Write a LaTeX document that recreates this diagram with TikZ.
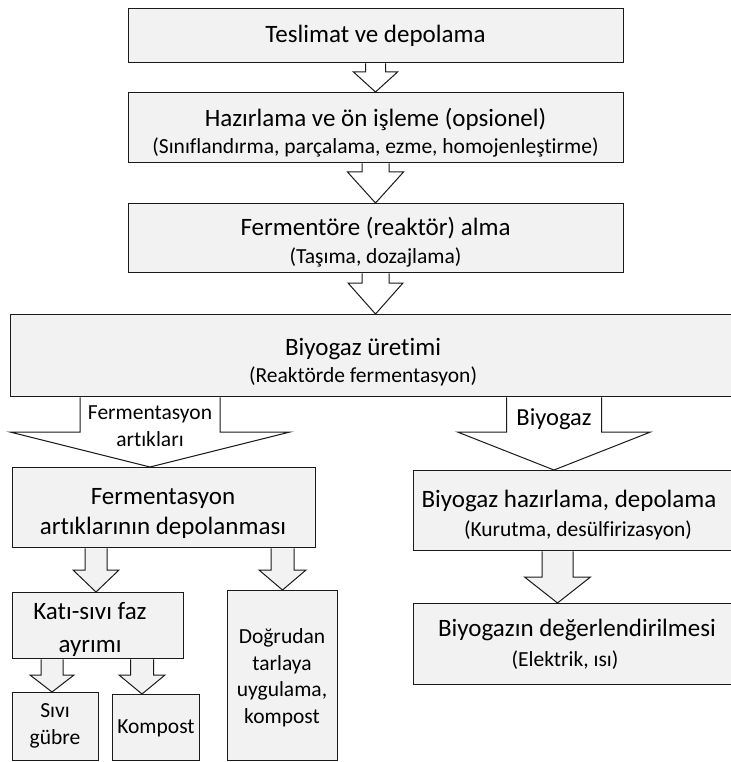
\documentclass[tikz,border=0pt]{standalone}
\usepackage{fontspec}
\setmainfont{Carlito}[Ligatures={NoCommon}]
\usetikzlibrary{calc}
\definecolor{boxgray}{HTML}{F2F2F2}
\definecolor{edgecol}{HTML}{1A1A1A}
\newcommand\bx[5]{\node[boxshape, minimum width={#4-#2}, minimum height={#5-#3}, anchor=north west] (#1) at (#2,#3) {};}
% \barrow[fill]{source}{target}{x centre}{shaft half}{head half}{shaft bottom y}
\newcommand\barrow[7][white]{%
  \path let \p1=(#2.south), \p2=(#3.north) in
    [blkarrow, fill=#1] ({(#4-#5)*1pt},\y1) -- ({(#4-#5)*1pt},{-#7pt}) -- ({(#4-#6)*1pt},{-#7pt})
    -- ({#4*1pt},\y2) -- ({(#4+#6)*1pt},{-#7pt}) -- ({(#4+#5)*1pt},{-#7pt}) -- ({(#4+#5)*1pt},\y1);}
\begin{document}
\begin{tikzpicture}[x=1pt,y=-1pt,
  boxshape/.style={draw=edgecol, line width=1.3pt, fill=boxgray, inner sep=0pt, rectangle},
  blkarrow/.style={draw=edgecol, line width=1pt, line join=miter},
  maintxt/.style={font=\fontsize{25}{30}\selectfont, anchor=base, inner sep=0pt},
  subtxt/.style={font=\fontsize{21.5}{26}\selectfont, anchor=base, inner sep=0pt},
  multitxt/.style={font=\fontsize{21.5}{26.5}\selectfont, align=center, inner sep=0pt}]
\useasboundingbox (0,0) rectangle (730,762);
\fill[white] (0,0) rectangle (730,762);

% boxes (drawn as node shapes; arrows refer to them)
\bx{b1}{128}{8}{623}{62}
\bx{b2}{128}{92}{623}{162}
\bx{b3}{128}{203}{623}{272}
\bx{b4}{10}{314}{745}{396}
\bx{b5}{12}{467}{315}{547}
\bx{b6}{413}{470}{745}{550}
\bx{b7}{12}{592}{183}{658}
\bx{b8}{227}{590}{337}{760}
\bx{b9}{413}{603}{745}{684}
\bx{b10}{12}{692}{98}{760}
\bx{b11}{112}{694}{199}{760}

% block arrows
\barrow{b1}{b2}{375.5}{10}{22}{72}
\barrow{b2}{b3}{375.5}{13.5}{28}{172}
\barrow{b3}{b4}{375.5}{13.5}{27.5}{283}
\barrow{b4}{b5}{150}{70}{140}{432}
\barrow{b4}{b6}{554}{47.5}{96.5}{432}
\barrow[boxgray]{b5}{b7}{96}{11}{23}{570}
\barrow[boxgray]{b5}{b8}{282.5}{11.5}{23.5}{570}
\barrow[boxgray]{b6}{b9}{557.5}{15.5}{33}{577}
\barrow[boxgray]{b7}{b10}{52}{11}{22}{675}
\barrow[boxgray]{b7}{b11}{142}{11.5}{23}{675}

% texts
\node[maintxt] (t1) at (375.5,43) {Teslimat ve depolama};
\node[maintxt] (t2a) at (375.5,127) {Hazırlama ve ön işleme (opsionel)};
\node[subtxt] (t2b) at (375.5,153.5) {(Sınıflandırma, parçalama, ezme, homojenleştirme)};
\node[maintxt] (t3a) at (375.5,235) {Fermentöre (reaktör) alma};
\node[subtxt] (t3b) at (375.5,263) {(Taşıma, dozajlama)};
\node[maintxt] (t4a) at (363,355) {Biyogaz üretimi};
\node[subtxt] (t4b) at (363,382.5) {(Reaktörde fermentasyon)};
\node[subtxt] (l1a) at (150,419.5) {Fermentasyon};
\node[subtxt] (l1b) at (150,446) {artıkları};
\node[maintxt, font=\fontsize{24.5}{29}\selectfont] (l2) at (554,425) {Biyogaz};
\node[maintxt] (t5a) at (163,504) {Fermentasyon};
\node[maintxt] (t5b) at (163,534) {artıklarının depolanması};
\node[maintxt] (t6a) at (569,507) {Biyogaz hazırlama, depolama};
\node[subtxt] (t6b) at (578,536.5) {(Kurutma, desülfirizasyon)};
\node[maintxt] (t7a) at (90,619) {Katı-sıvı faz};
\node[maintxt] (t7b) at (90,652) {ayrımı};
\node[multitxt] (t8) at (282,678) {Doğrudan\\tarlaya\\uygulama,\\kompost};
\node[maintxt] (t9a) at (577,636) {Biyogazın değerlendirilmesi};
\node[subtxt] (t9b) at (565,666.5) {(Elektrik, ısı)};
\node[multitxt] (t10) at (55,726) {Sıvı\\gübre};
\node[subtxt] (t11) at (156,733.5) {Kompost};
\end{tikzpicture}
\end{document}
